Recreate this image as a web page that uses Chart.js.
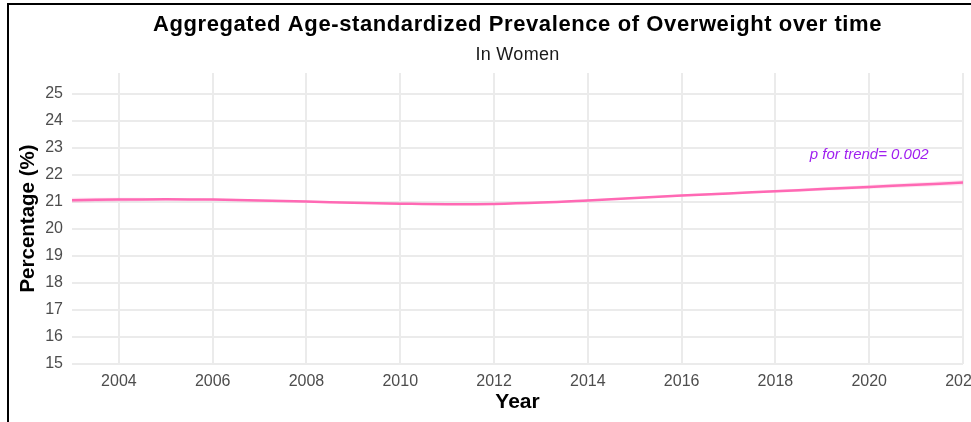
<!DOCTYPE html>
<html>
<head>
<meta charset="utf-8">
<script src="https://cdn.jsdelivr.net/npm/chart.js@4"></script>
<style>
  html, body { margin: 0; padding: 0; background: #fff; overflow: hidden; width: 971px; height: 422px; }
  #frame { position: absolute; left: 7px; top: 3px; width: 1100px; height: 600px; border: 2px solid #000; box-sizing: border-box; }
  #wrap { position: absolute; left: 0; top: 0; width: 1000px; height: 422px; }
</style>
</head>
<body>
<div id="frame"></div>
<div id="wrap"><canvas id="c" width="1000" height="422"></canvas></div>
<script>
const years = [2003,2004,2005,2006,2007,2008,2009,2010,2011,2012,2013,2014,2015,2016,2017,2018,2019,2020,2021,2022];
const prevalence = [21.07,21.09,21.10,21.09,21.06,21.02,20.97,20.94,20.92,20.93,20.98,21.06,21.15,21.24,21.32,21.40,21.48,21.56,21.64,21.72];
const ciLower = [20.98,21.02,21.05,21.05,21.03,20.99,20.94,20.91,20.89,20.90,20.95,21.03,21.12,21.20,21.28,21.35,21.42,21.49,21.56,21.62];
const ciUpper = [21.16,21.16,21.15,21.13,21.09,21.05,21.00,20.97,20.95,20.96,21.01,21.09,21.18,21.28,21.36,21.45,21.54,21.63,21.72,21.82];
const xTicks = [2004,2006,2008,2010,2012,2014,2016,2018,2020,2022];
const yTicks = [15,16,17,18,19,20,21,22,23,24,25];
const titleText = "Aggregated Age-standardized Prevalence of Overweight over time";
const subtitleText = "In Women";
const trendText = "p for trend= 0.002";
const trendPos = [2020, 22.75];

const FONT = "'Liberation Sans', Arial, Helvetica, sans-serif";

const toXY = arr => years.map((y, i) => ({x: y, y: arr[i]}));

const textPlugin = {
  id: 'textPlugin',
  afterDraw(chart) {
    const ctx = chart.ctx;
    const ca = chart.chartArea;
    const cx = (ca.left + ca.right) / 2;
    ctx.save();
    ctx.textAlign = 'center';
    ctx.textBaseline = 'alphabetic';
    ctx.fillStyle = '#000';
    ctx.font = "bold 22px " + FONT;
    ctx.letterSpacing = '0.6px';
    ctx.fillText(titleText, cx, 31);
    ctx.font = "18px " + FONT;
    ctx.letterSpacing = '0.3px';
    ctx.fillStyle = '#1a1a1a';
    ctx.fillText(subtitleText, cx, 59.5);
    ctx.letterSpacing = '0px';
    const xs = chart.scales.x, ys = chart.scales.y;
    ctx.font = "italic 15px " + FONT;
    ctx.fillStyle = '#A020F0';
    ctx.textBaseline = 'middle';
    ctx.fillText(trendText, xs.getPixelForValue(trendPos[0]), ys.getPixelForValue(trendPos[1]));
    ctx.restore();
  }
};

new Chart(document.getElementById('c'), {
  type: 'line',
  data: {
    datasets: [
      { label: 'line', data: toXY(prevalence), borderColor: '#FF69B4', borderWidth: 2.5, pointRadius: 0, tension: 0.4, fill: false, order: 0 },
      { label: 'lower', data: toXY(ciLower), borderColor: 'rgba(0,0,0,0)', borderWidth: 0, pointRadius: 0, tension: 0.4, fill: false, order: 2 },
      { label: 'upper', data: toXY(ciUpper), borderColor: 'rgba(0,0,0,0)', borderWidth: 0, pointRadius: 0, tension: 0.4, fill: '-1', backgroundColor: 'rgba(255,105,180,0.18)', order: 1 }
    ]
  },
  options: {
    responsive: false,
    animation: false,
    events: [],
    layout: { padding: { top: 73, left: 0, right: 37, bottom: 0 } },
    plugins: { legend: { display: false }, tooltip: { enabled: false }, title: { display: false } },
    scales: {
      x: {
        type: 'linear', min: 2003, max: 2022,
        afterBuildTicks: s => { s.ticks = xTicks.map(v => ({value: v})); },
        afterFit: s => { s.height = 58; },
        grid: { color: '#EBEBEB', lineWidth: 2, drawTicks: false },
        border: { display: false },
        ticks: { color: '#4D4D4D', font: { family: FONT, size: 16 }, padding: 8, maxRotation: 0, autoSkip: false, callback: v => String(v) },
        title: { display: true, text: 'Year', color: '#000', font: { family: FONT, size: 21, weight: 'bold' }, padding: { top: 0, bottom: 7 } }
      },
      y: {
        type: 'linear', min: 15, max: 25.78,
        afterBuildTicks: s => { s.ticks = yTicks.map(v => ({value: v})); },
        afterFit: s => { s.width = 72; },
        grid: { color: '#EBEBEB', lineWidth: 2, drawTicks: false },
        border: { display: false },
        ticks: { color: '#4D4D4D', font: { family: FONT, size: 16 }, padding: 9, callback: v => String(v) },
        title: { display: true, text: 'Percentage (%)', color: '#000', font: { family: FONT, size: 20.5, weight: 'bold' }, padding: { top: 16, bottom: 0 } }
      }
    }
  },
  plugins: [textPlugin]
});
</script>
</body>
</html>
